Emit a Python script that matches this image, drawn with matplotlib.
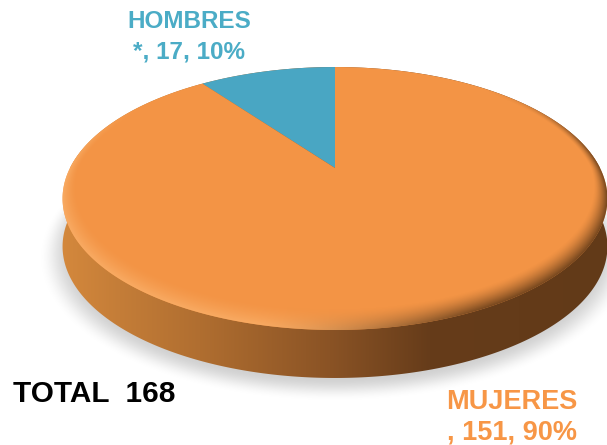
import numpy as np
import matplotlib
matplotlib.use('Agg')
import matplotlib.pyplot as plt
from matplotlib.patches import Polygon
from matplotlib.transforms import Affine2D

categories = ['HOMBRES', 'MUJERES']
prefixes = ['*', '']
counts = [17, 151]
percents = [10, 90]
total_label = 'TOTAL  168'

W, H = 607, 445
CX, CY = 335, 168     # apex of the slices on screen
A, B, K = 265.0, 124.4, 0.232   # perspective of the disc
DEPTH = 48

plt.rcParams['font.family'] = ['Liberation Sans', 'DejaVu Sans']
plt.rcParams['font.weight'] = 'bold'


def project(u, v):
    w = 1 + K * v
    return CX + A * u / w, CY - B * v / w


def unproject(x, y):
    # back from screen pixels to the unit circle
    X = (x - CX) / A
    Y = (CY - y) / B
    v = Y / (1 - K * Y)
    u = X * (1 + K * v)
    return u, v


def lerp(c1, c2, t):
    return c1 + (c2 - c1) * t[..., None]


def smooth(a, b, x):
    t = np.clip((x - a) / (b - a), 0, 1)
    return t * t * (3 - 2 * t)


fig = plt.figure(figsize=(W / 100, H / 100), dpi=100)
ax = fig.add_axes([0, 0, 1, 1])
ax.set_xlim(0, W)
ax.set_ylim(H, 0)
ax.axis('off')

# pixel grid for the soft shading
gx, gy = np.meshgrid(np.arange(W) + 0.5, np.arange(H) + 0.5)
extent = (0, W, H, 0)

# soft shadow under the disc
su, sv = unproject(gx, gy - DEPTH - 6)
sr = np.hypot(su, sv)
shadow = np.zeros((H, W, 4))
shadow[..., :3] = 0.70
shadow[..., 3] = 0.6 * (1 - smooth(0.97, 1.08, sr))
ax.imshow(shadow, extent=extent, zorder=1, aspect='auto', interpolation='bilinear')

# outline of the disc
theta = np.linspace(0, 2 * np.pi, 721)
ox, oy = project(np.cos(theta), np.sin(theta))

# side wall, dark towards the right
low = np.sin(theta) < 0
side_pts = np.column_stack([ox, oy + DEPTH * low])
side_patch = Polygon(side_pts, closed=True, transform=ax.transData, fc='none', ec='none')
ax.add_patch(side_patch)
stops_x = [62, 120, 200, 330, 430, 607]
stops_r = [0xD4, 0xC4, 0xB0, 0x8A, 0x66, 0x62]
stops_g = [0x88, 0x7D, 0x6E, 0x53, 0x3C, 0x3A]
stops_b = [0x3C, 0x38, 0x30, 0x25, 0x1A, 0x18]
side_img = np.dstack([np.interp(gx, stops_x, s) / 255 for s in (stops_r, stops_g, stops_b)])
im = ax.imshow(side_img, extent=extent, zorder=2, aspect='auto')
im.set_clip_path(side_patch)

# slices of the top face, from the values
pie_ax = fig.add_axes([0, 0, 0.01, 0.01])
wedges, _ = pie_ax.pie(counts, startangle=90, counterclock=True, colors=['#49A6C3', '#F39445'])
pie_ax.set_visible(False)
for w in wedges:
    scale = w.get_patch_transform() + Affine2D().scale(2000)
    poly = w.get_path().to_polygons(scale)[0] / 2000
    px, py = project(poly[:, 0], poly[:, 1])
    ax.add_patch(Polygon(np.column_stack([px, py]), closed=True, fc=w.get_facecolor(),
                         ec='none', zorder=3))

# bevel on the front rim of the top face
u, v = unproject(gx, gy)
r = np.hypot(u, v)
ang = np.mod(np.arctan2(v, u), 2 * np.pi)
inner = 1 - (0.035 + 0.07 * np.clip(-np.sin(ang), 0, 1))
bevel = np.clip((r - inner) / (1 - inner), 0, 1)
light = np.array([0.98, 0.68, 0.40])
dark = np.array([0.40, 0.24, 0.10])
rim = np.zeros((H, W, 4))
# angle measured from the top of the disc, going round by the left
from_top = np.mod(ang - np.pi / 2, 2 * np.pi)
rim[..., :3] = lerp(light, dark, smooth(np.radians(165), np.radians(210), from_top))
rim[..., 3] = bevel ** 1.5 * 0.9 * smooth(np.radians(50), np.radians(95), from_top) \
    * (1 - smooth(np.radians(270), np.radians(320), from_top))
top_patch = Polygon(np.column_stack([ox, oy]), closed=True, transform=ax.transData, fc='none', ec='none')
ax.add_patch(top_patch)
rim_im = ax.imshow(rim, extent=extent, zorder=4, aspect='auto', interpolation='bilinear')
rim_im.set_clip_path(top_patch)

ax.set_xlim(0, W)
ax.set_ylim(H, 0)

# labels
label_colors = ['#4BACC6', '#F79646']
label_x = [189, 512]
label_y = [22, 402]
label_size = [17.5, 19.5]
for i in range(2):
    ax.text(label_x[i], label_y[i], categories[i], color=label_colors[i], fontsize=label_size[i],
            ha='center', va='center', zorder=5)
    ax.text(label_x[i], label_y[i] + 30, f'{prefixes[i]}, {counts[i]}, {percents[i]}%',
            color=label_colors[i], fontsize=label_size[i], ha='center', va='center', zorder=5)
ax.text(13, 394, total_label, color='black', fontsize=21.4, ha='left', va='center', zorder=5)

fig.savefig('out.png', dpi=100)
